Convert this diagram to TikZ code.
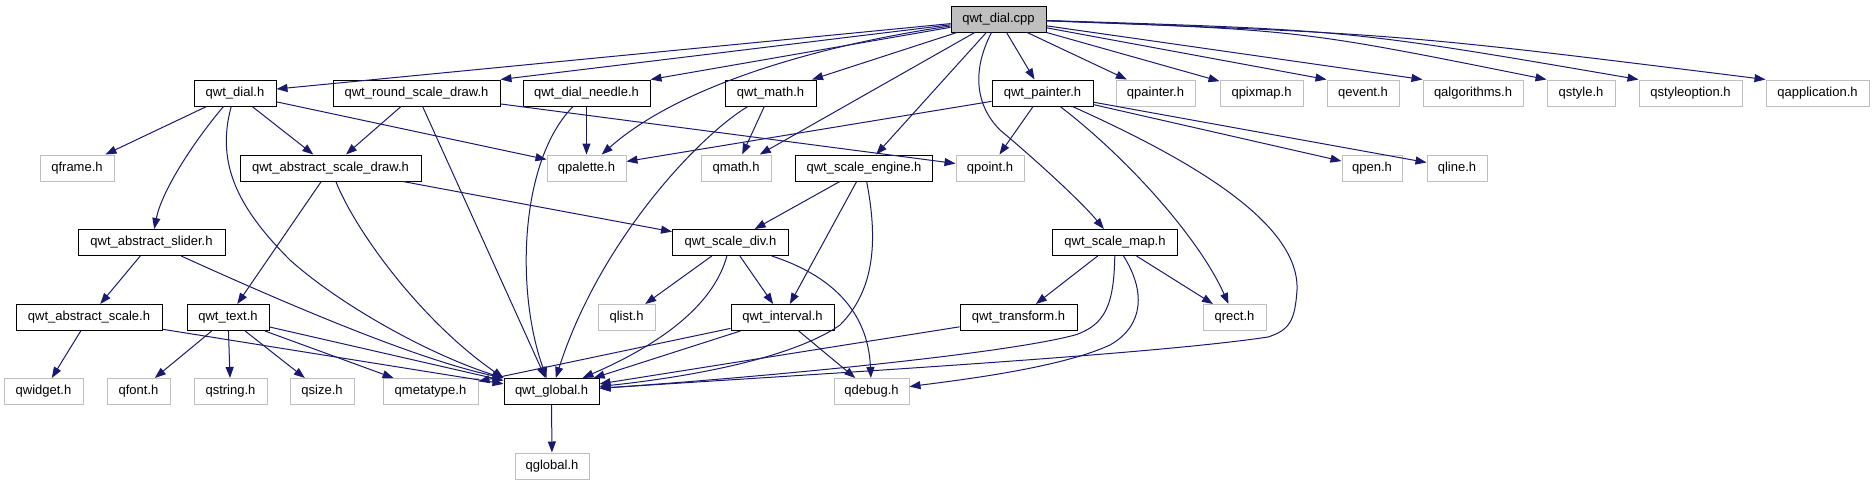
\documentclass[tikz,border=0pt]{standalone}
\usepackage{fontspec}
\setmainfont{Liberation Sans}
\usetikzlibrary{arrows.meta}
\definecolor{edgeblue}{HTML}{191970}
\definecolor{extgray}{HTML}{BFBFBF}
\begin{document}
\begin{tikzpicture}[x=1pt,y=-1pt,
  box/.style={rectangle, minimum height=26pt, inner xsep=2pt, inner ysep=0pt, line width=1pt, fill=white, font=\fontsize{13}{15}\selectfont},
  doc/.style={box, draw=black},
  ext/.style={box, draw=extgray},
  mainf/.style={box, draw=black, fill=extgray},
  e/.style={draw=edgeblue, line width=1pt, -{Triangle[length=11pt,width=8pt]}}]
\useasboundingbox (0,0) rectangle (1873,485);
% row 0
\node[mainf, minimum width=95pt] (cpp) at (998.5,19) {qwt\_dial.cpp};
% row 1
\node[doc, minimum width=82pt] (dial) at (235,93) {qwt\_dial.h};
\node[doc, minimum width=167pt] (rsd) at (416.5,93) {qwt\_round\_scale\_draw.h};
\node[doc, minimum width=127pt] (needle) at (586.5,93) {qwt\_dial\_needle.h};
\node[doc, minimum width=91pt] (math) at (770.5,93) {qwt\_math.h};
\node[doc, minimum width=101pt] (painter) at (1042.5,93) {qwt\_painter.h};
\node[ext, minimum width=79pt] (qpainter) at (1155.5,93) {qpainter.h};
\node[ext, minimum width=83pt] (qpixmap) at (1261.5,93) {qpixmap.h};
\node[ext, minimum width=72pt] (qevent) at (1363,93) {qevent.h};
\node[ext, minimum width=100pt] (qalg) at (1473,93) {qalgorithms.h};
\node[ext, minimum width=68pt] (qstyle) at (1581,93) {qstyle.h};
\node[ext, minimum width=103pt] (qsopt) at (1690.5,93) {qstyleoption.h};
\node[ext, minimum width=103pt] (qapp) at (1817.5,93) {qapplication.h};
% row 2
\node[ext, minimum width=74pt] (qframe) at (77,168) {qframe.h};
\node[doc, minimum width=181pt] (asd) at (330.5,168) {qwt\_abstract\_scale\_draw.h};
\node[ext, minimum width=79pt] (qpalette) at (586.5,168) {qpalette.h};
\node[ext, minimum width=70pt] (qmath) at (736,168) {qmath.h};
\node[doc, minimum width=137pt] (se) at (864,168) {qwt\_scale\_engine.h};
\node[ext, minimum width=68pt] (qpoint) at (990,168) {qpoint.h};
\node[ext, minimum width=60pt] (qpen) at (1372,168) {qpen.h};
\node[ext, minimum width=60pt] (qline) at (1457,168) {qline.h};
% row 3
\node[doc, minimum width=147pt] (aslider) at (151.5,242.5) {qwt\_abstract\_slider.h};
\node[doc, minimum width=116pt] (sdiv) at (730.5,242.5) {qwt\_scale\_div.h};
\node[doc, minimum width=125pt] (smap) at (1115,242.5) {qwt\_scale\_map.h};
% row 4
\node[doc, minimum width=146pt] (ascale) at (89,317.5) {qwt\_abstract\_scale.h};
\node[doc, minimum width=82pt] (text) at (228,317.5) {qwt\_text.h};
\node[ext, minimum width=57pt] (qlist) at (626.5,317.5) {qlist.h};
\node[doc, minimum width=103pt] (interval) at (782.5,317.5) {qwt\_interval.h};
\node[doc, minimum width=117pt] (transform) at (1018.5,317.5) {qwt\_transform.h};
\node[ext, minimum width=63pt] (qrect) at (1234.5,317.5) {qrect.h};
% row 5
\node[ext, minimum width=79pt] (qwidget) at (43.5,391.5) {qwidget.h};
\node[ext, minimum width=63pt] (qfont) at (138.5,391.5) {qfont.h};
\node[ext, minimum width=73pt] (qstring) at (230.5,391.5) {qstring.h};
\node[ext, minimum width=64pt] (qsize) at (322,391.5) {qsize.h};
\node[ext, minimum width=95pt] (qmetatype) at (430.5,391.5) {qmetatype.h};
\node[doc, minimum width=95pt] (global) at (551.5,391.5) {qwt\_global.h};
\node[ext, minimum width=75pt] (qdebug) at (871.5,391.5) {qdebug.h};
% row 6
\node[ext, minimum width=74pt] (qglobal) at (552,466) {qglobal.h};

% edges from qwt_dial.cpp
\draw[e] (cpp) -- (dial);
\draw[e] (cpp) -- (rsd.north east);
\draw[e] (cpp) -- (needle.north east);
\draw[e] (cpp) .. controls (820,45) and (680,85) .. (qpalette);
\draw[e] (cpp) -- (math);
\draw[e] (cpp) -- (qmath);
\draw[e] (cpp) -- (se);
\draw[e] (cpp) .. controls (972,70) and (975,105) .. (1000,130) .. controls (1030,155) and (1080,200) .. (smap);
\draw[e] (cpp) -- (painter);
\draw[e] (cpp) -- (qpainter);
\draw[e] (cpp) -- (qpixmap);
\draw[e] (cpp) -- (qevent.north west);
\draw[e] (cpp) -- (qalg.north west);
\draw[e] (cpp) .. controls (1300,30) .. (qstyle.north west);
\draw[e] (cpp) .. controls (1350,30) .. (qsopt.north west);
\draw[e] (cpp) .. controls (1400,34) .. (qapp.north west);
% qwt_dial.h
\draw[e] (dial) -- (qframe);
\draw[e] (dial) .. controls (195,140) and (162,190) .. (aslider);
\draw[e] (dial) .. controls (215,165) and (240,210) .. (290,260) .. controls (340,305) and (430,355) .. (global.north west);
\draw[e] (dial) -- (asd);
\draw[e] (dial) -- (qpalette);
% qwt_round_scale_draw.h
\draw[e] (rsd) -- (asd);
\draw[e] (rsd) -- (global);
\draw[e] (rsd) -- (qpoint);
% qwt_dial_needle.h
\draw[e] (needle) -- (qpalette);
\draw[e] (needle) .. controls (520,160) and (515,290) .. (global);
% qwt_math.h
\draw[e] (math) -- (qmath);
\draw[e] (math) .. controls (700,135) and (600,240) .. (global);
% qwt_painter.h
\draw[e] (painter) -- (qpalette);
\draw[e] (painter) -- (qpoint);
\draw[e] (painter) -- (qpen);
\draw[e] (painter) -- (qline);
\draw[e] (painter) .. controls (1130,160) and (1200,240) .. (qrect);
\draw[e] (painter) .. controls (1180,155) and (1300,220) .. (1297,290) .. controls (1295,320) and (1290,330) .. (1268,337) .. controls (1150,355) and (800,375) .. (global);
% qwt_abstract_scale_draw.h
\draw[e] (asd) -- (text);
\draw[e] (asd) .. controls (355,230) and (420,320) .. (global.north west);
\draw[e] (asd) -- (sdiv);
% qwt_scale_engine.h
\draw[e] (se) -- (sdiv);
\draw[e] (se) -- (interval);
\draw[e] (se) .. controls (878,240) and (875,290) .. (840,325) .. controls (790,360) and (680,378) .. (global);
% qwt_abstract_slider.h
\draw[e] (aslider) -- (ascale);
\draw[e] (aslider) .. controls (300,310) and (420,360) .. (global.north west);
% qwt_scale_div.h
\draw[e] (sdiv) -- (qlist);
\draw[e] (sdiv) -- (interval);
\draw[e] (sdiv) .. controls (830,275) and (868,310) .. (qdebug);
\draw[e] (sdiv) .. controls (715,300) and (670,340) .. (global);
% qwt_scale_map.h
\draw[e] (smap) -- (transform);
\draw[e] (smap) -- (qrect);
\draw[e] (smap) .. controls (1114,305) and (1105,325) .. (1075,335) .. controls (1000,355) and (750,378) .. (global);
\draw[e] (smap) .. controls (1145,290) and (1145,325) .. (1110,345) .. controls (1060,368) and (960,380) .. (qdebug);
% qwt_abstract_scale.h
\draw[e] (ascale) -- (qwidget);
\draw[e] (ascale) -- (global);
% qwt_text.h
\draw[e] (text) -- (qfont);
\draw[e] (text) -- (qstring);
\draw[e] (text) -- (qsize);
\draw[e] (text) -- (qmetatype);
\draw[e] (text) -- (global);
% qwt_interval.h
\draw[e] (interval) -- (qmetatype);
\draw[e] (interval) -- (global);
\draw[e] (interval) -- (qdebug);
% qwt_transform.h
\draw[e] (transform) -- (global);
% qwt_global.h
\draw[e] (global) -- (qglobal);
\end{tikzpicture}
\end{document}
